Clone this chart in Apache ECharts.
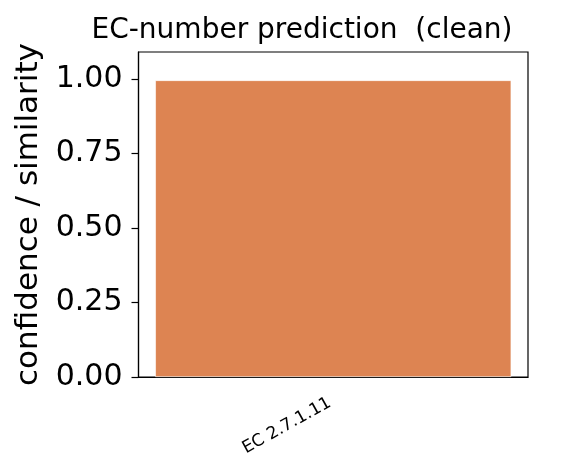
<!DOCTYPE html>
<html><head><meta charset="utf-8">
<script src="https://cdn.jsdelivr.net/npm/echarts@6/dist/echarts.min.js"></script>
<style>html,body{margin:0;padding:0;background:#fff}#c{width:583px;height:476px}</style>
</head><body><div id="c"></div>
<script>
var categories = ["EC 2.7.1.11"];
var values = [0.995];
var yTicks = [0, 0.25, 0.5, 0.75, 1.0];
var titleText = "EC-number prediction  (clean)";
var yName = "confidence / similarity";

var F = "DejaVu Sans";
var chart = echarts.init(document.getElementById('c'), null, {renderer:'canvas'});
chart.setOption({
  animation:false,
  backgroundColor:'#fff',
  title:{text:titleText, left:297, textAlign:'center', top:12,
    textStyle:{fontFamily:F, fontSize:28, fontWeight:'normal', color:'#000'}},
  grid:{left:138.5, right:55, top:52, bottom:99, show:true, borderColor:'#000', borderWidth:1.2, backgroundColor:'transparent'},
  xAxis:{type:'category', data:categories,
    axisLine:{lineStyle:{color:'#000', width:1.2}},
    axisTick:{alignWithLabel:true, length:7, lineStyle:{color:'#000', width:1.2}},
    axisLabel:{rotate:29, margin:23, padding:[0,4,0,0], fontFamily:F, fontSize:17, color:'#000'}},
  yAxis:{type:'value', min:0, max:1.09,
    name:yName, nameLocation:'middle', nameGap:87, nameRotate:90,
    nameTextStyle:{fontFamily:F, fontSize:31, color:'#000'},
    splitLine:{show:false},
    axisLine:{show:true, lineStyle:{color:'#000', width:1.2}},
    axisTick:{show:true, length:7, lineStyle:{color:'#000', width:1.2}, customValues: yTicks},
    axisLabel:{margin:16, fontFamily:F, fontSize:30, color:'#000',
      customValues: yTicks,
      formatter:function(v){return v.toFixed(2);}}},
  series:[{type:'bar', data:values, barWidth:'91.4%',
    itemStyle:{color:'#DD8452', borderColor:'#fff', borderWidth:0.6}}]
});
</script></body></html>
